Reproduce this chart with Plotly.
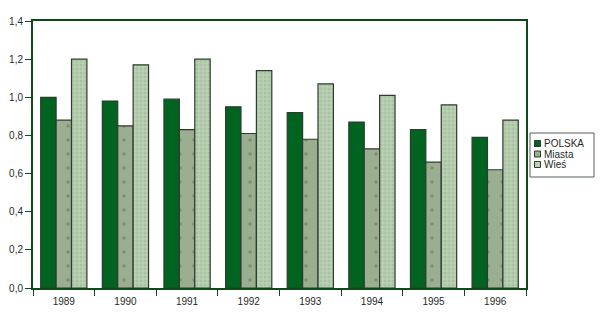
import plotly.graph_objects as go

years = ["1989", "1990", "1991", "1992", "1993", "1994", "1995", "1996"]
polska = [1.00, 0.98, 0.99, 0.95, 0.92, 0.87, 0.83, 0.79]
miasta = [0.88, 0.85, 0.83, 0.81, 0.78, 0.73, 0.66, 0.62]
wies = [1.20, 1.17, 1.20, 1.14, 1.07, 1.01, 0.96, 0.88]
series_names = ["POLSKA", "Miasta", "Wieś"]
ytick_vals = [0, 0.2, 0.4, 0.6, 0.8, 1.0, 1.2, 1.4]
ytick_text = ["0,0", "0,2", "0,4", "0,6", "0,8", "1,0", "1,2", "1,4"]

axis_col = "#0f4a1a"
line_col = "#2e3b2e"
fills = ["#006420", "#9aae90", "#b9d3b0"]

W, H = 600, 313
ML, MR, MT, MB = 33, 74, 21, 25
pw, ph = W - ML - MR, H - MT - MB

fig = go.Figure()
fig.add_bar(name=series_names[0], x=years, y=polska,
            marker=dict(color=fills[0], line=dict(color=line_col, width=1.2)))
fig.add_bar(name=series_names[1], x=years, y=miasta,
            marker=dict(color=fills[1], line=dict(color=line_col, width=1.2),
                        pattern=dict(shape=".", fgcolor="#5d6e58", size=14, solidity=0.05)))
fig.add_bar(name=series_names[2], x=years, y=wies,
            marker=dict(color=fills[2], line=dict(color=line_col, width=1.2),
                        pattern=dict(shape="+", fgcolor="#d6ecd0", bgcolor="#a9c3a2", size=4, solidity=0.4)))

# custom compact legend (paper coordinates derived from pixel layout)
def px_x(p):
    return (p - ML) / pw

def px_y(p):
    return (H - MB - p) / ph

shapes = [dict(type="rect", xref="paper", yref="paper",
               x0=px_x(530), x1=px_x(594), y0=px_y(177), y1=px_y(133),
               line=dict(color="#556055", width=1), fillcolor="white")]
annotations = []
row_y = [143.5, 154, 164.5]
for name, col, ry in zip(series_names, fills, row_y):
    shapes.append(dict(type="rect", xref="paper", yref="paper",
                       x0=px_x(534.5), x1=px_x(540.5), y0=px_y(ry + 3), y1=px_y(ry - 3),
                       line=dict(color=line_col, width=1), fillcolor=col))
    annotations.append(dict(text=name, xref="paper", yref="paper",
                            x=px_x(542), y=px_y(ry), xanchor="left", yanchor="middle",
                            showarrow=False, font=dict(size=10, color="#1e2a1e")))

fig.update_layout(
    width=W, height=H,
    margin=dict(l=ML, r=MR, t=MT, b=MB, autoexpand=False),
    barmode="group", bargap=0.25, bargroupgap=0,
    plot_bgcolor="white", paper_bgcolor="white",
    font=dict(family="Liberation Sans, Arial, sans-serif", size=10, color="#1e2a1e"),
    showlegend=False,
    shapes=shapes, annotations=annotations,
    xaxis=dict(showline=True, linecolor=axis_col, linewidth=2, mirror=True,
               ticks="outside", tickson="boundaries", ticklen=6, tickcolor=axis_col,
               tickfont=dict(size=10), ticklabelstandoff=3, automargin=False),
    yaxis=dict(range=[0, 1.4], tickvals=ytick_vals, ticktext=ytick_text,
               showline=True, linecolor=axis_col, linewidth=2, mirror=True,
               ticks="outside", ticklen=6, tickcolor=axis_col, showgrid=False,
               zeroline=False, tickfont=dict(size=10), automargin=False),
)

fig.write_html("out.html")
